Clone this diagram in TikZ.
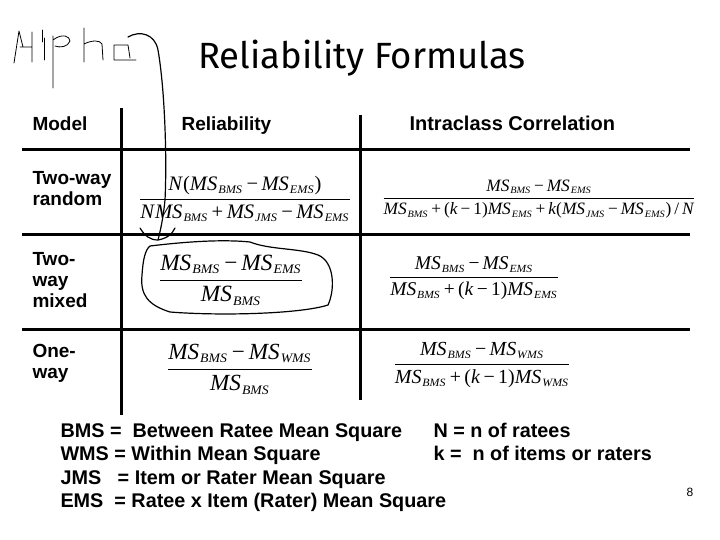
\documentclass[tikz,border=0pt]{standalone}
\usepackage{amsmath}
\usepackage{fontspec}
\usepackage{graphicx}
\setmainfont{Liberation Sans}
\newfontfamily\tms{Liberation Serif}
\newfontfamily\titlefont{Fira Sans}
\newcommand\ms[1]{\textit{MS}\kern0.5pt\textsubscript{\scalebox{0.85}[0.8]{\textit{#1}}}}
\newcommand\mn{\,\textup{−}\,}
\newcommand\pl{\,\textup{+}\,}
\newcommand\fr[2]{$\dfrac{\hbox{\tms #1}}{\hbox{\tms #2}}$}
\begin{document}
\begin{tikzpicture}[x=1pt,y=-1pt,
  rule/.style={line width=3pt},
  lab/.style={font=\fontsize{19}{21}\selectfont\bfseries,anchor=west,align=left},
  hdr/.style={font=\fontsize{19}{21}\selectfont\bfseries,anchor=base west},
  leg/.style={font=\fontsize{19.8}{23}\selectfont\bfseries,anchor=base west},
  hand/.style={line width=1.2pt,line cap=round,line join=round}]
\useasboundingbox (0,0) rectangle (720,540);
% title
\node (title) at (362,58) {\titlefont\fontsize{36.5}{40}\selectfont Reliability Formulas};
% rules
\coordinate (v1t) at (121,108); \coordinate (v1b) at (121,415);
\coordinate (v2t) at (360,115); \coordinate (v2b) at (360,400);
\draw[rule] (v1t) -- (v1b);
\draw[rule] (v2t) -- (v2b);
\foreach \y in {150,234,329}{\draw[rule] (22,\y) -- (690,\y);}
% headers
\node[hdr] (hm) at (29,131) {Model};
\node[hdr] (hr) at (178,131) {Reliability};
\node[hdr,font=\fontsize{20}{21}\selectfont\bfseries] (hi) at (406,131) {Intraclass Correlation};
\node[lab] (r1) at (29,189) {Two-way\\random};
\node[lab] (r2) at (29,280) {Two-\\way\\mixed};
\node[lab] (r3) at (29,363) {One-\\way};
% formulas
\node (f11) at (245,199) {\resizebox{214pt}{!}{\fr{\textit{N}(\ms{BMS}\mn\ms{EMS})}{\textit{N}\ms{BMS}\pl\ms{JMS}\mn\ms{EMS}}}};
\node (f12) at (539,199) {\resizebox{315pt}{!}{\fr{\ms{BMS}\mn\ms{EMS}}{\ms{BMS}\pl(\textit{k}\mn1)\ms{EMS}\pl\textit{k}(\ms{JMS}\mn\ms{EMS})\,/\,\textit{N}}}};
\node (f21) at (231,280) {\resizebox{147pt}{!}{\fr{\ms{BMS}\mn\ms{EMS}}{\ms{BMS}}}};
\node (f22) at (474,278) {\resizebox{172pt}{!}{\fr{\ms{BMS}\mn\ms{EMS}}{\ms{BMS}\pl(\textit{k}\mn1)\ms{EMS}}}};
\node (f31) at (240,369) {\resizebox{149pt}{!}{\fr{\ms{BMS}\mn\ms{WMS}}{\ms{BMS}}}};
\node (f32) at (482,365) {\resizebox{179pt}{!}{\fr{\ms{BMS}\mn\ms{WMS}}{\ms{BMS}\pl(\textit{k}\mn1)\ms{WMS}}}};
% legend
\node[leg] (l1) at (57,437) {BMS =\ \ Between Ratee Mean Square};
\node[leg] (l2) at (57,460) {WMS = Within Mean Square};
\node[leg] (l3) at (57,484) {JMS\ \ \ = Item or Rater Mean Square};
\node[leg] (l4) at (57,507) {EMS\ \ = Ratee x Item (Rater) Mean Square};
\node[leg] (l5) at (430,437) {N = n of ratees};
\node[leg] (l6) at (430,460) {k =\ \ n of items or raters};
\node (pg) at (690,492) {\fontsize{12}{14}\selectfont 8};
% handwritten "Alpha"
\draw[hand,line width=0.8pt] (14,63) -- (19,31) -- (23,47) (20,47) -- (32,47) (32,32) -- (32,62);
\draw[hand,line width=0.8pt] (42,30) -- (42,42) (44,38) -- (44,60);
\draw[hand,line width=0.8pt] (53,36) -- (53,88) (53,40) .. controls (62,33) and (70,36) .. (70,41) .. controls (68,47) and (60,48) .. (55,46);
\draw[hand,line width=0.8pt] (84,28) -- (84,62) (84,44) .. controls (92,40) and (100,40) .. (102,44) -- (103,60);
\draw[hand,line width=0.8pt] (114,45) -- (114,60) -- (136,60) (114,45) -- (128,45) -- (130,58);
% arrow stroke
\draw[hand] (128,37) .. controls (140,30) and (155,34) .. (158,50)
  .. controls (165,90) and (167,160) .. (165,200) .. controls (163,220) and (160,232) .. (158,240);
\draw[hand] (140,228) .. controls (145,236) and (150,240) .. (158,240) .. controls (168,238) and (172,234) .. (175,228);
% loop
\draw[hand] (150,246) .. controls (200,240) and (230,240) .. (250,242)
  .. controls (270,250) and (300,248) .. (318,255) .. controls (335,262) and (335,290) .. (328,305)
  .. controls (300,314) and (220,316) .. (170,312) .. controls (148,305) and (140,295) .. (142,275)
  .. controls (143,260) and (145,250) .. (150,246);
\end{tikzpicture}
\end{document}
